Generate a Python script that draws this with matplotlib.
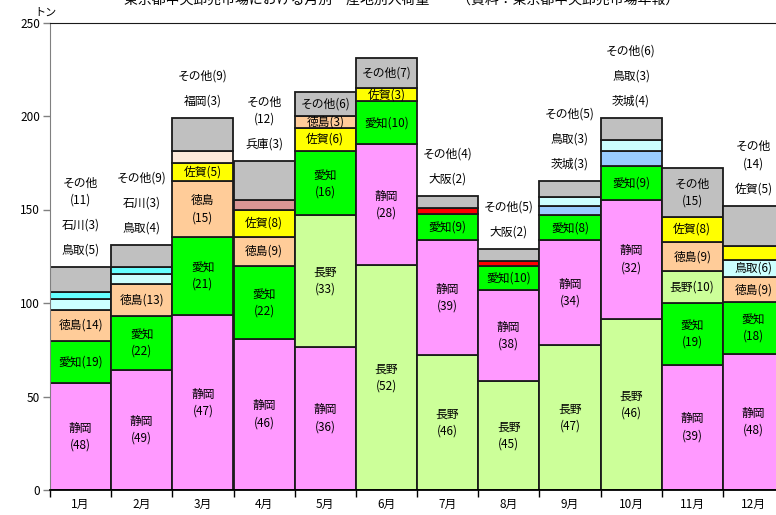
import matplotlib
matplotlib.use("Agg")
import matplotlib.pyplot as plt
from matplotlib.ticker import FixedLocator

plt.rcParams["font.family"] = ["Noto Sans CJK JP", "DejaVu Sans"]

# ---- data -------------------------------------------------------------
months = ["1月", "2月", "3月", "4月", "5月", "6月",
          "7月", "8月", "9月", "10月", "11月", "12月"]

# monthly arrivals (tonnes)
totals = [119, 131, 199, 176, 213, 231, 157, 129, 165, 199, 172, 152]

# producing prefectures of each month, bottom to top
origins = [
    ["静岡", "愛知", "徳島", "鳥取", "石川", "その他"],
    ["静岡", "愛知", "徳島", "鳥取", "石川", "その他"],
    ["静岡", "愛知", "徳島", "佐賀", "福岡", "その他"],
    ["静岡", "愛知", "徳島", "佐賀", "兵庫", "その他"],
    ["静岡", "長野", "愛知", "佐賀", "徳島", "その他"],
    ["長野", "静岡", "愛知", "佐賀", "その他"],
    ["長野", "静岡", "愛知", "大阪", "その他"],
    ["長野", "静岡", "愛知", "大阪", "その他"],
    ["長野", "静岡", "愛知", "茨城", "鳥取", "その他"],
    ["長野", "静岡", "愛知", "茨城", "鳥取", "その他"],
    ["静岡", "愛知", "長野", "徳島", "佐賀", "その他"],
    ["静岡", "愛知", "徳島", "鳥取", "佐賀", "その他"],
]

# share of each prefecture in the month (%)
shares = [
    [48, 19, 14, 5, 3, 11],
    [49, 22, 13, 4, 3, 9],
    [47, 21, 15, 5, 3, 9],
    [46, 22, 9, 8, 3, 12],
    [36, 33, 16, 6, 3, 6],
    [52, 28, 10, 3, 7],
    [46, 39, 9, 2, 4],
    [45, 38, 10, 2, 5],
    [47, 34, 8, 3, 3, 5],
    [46, 32, 9, 4, 3, 6],
    [39, 19, 10, 9, 8, 15],
    [48, 18, 9, 6, 5, 14],
]

# ---- styling ----------------------------------------------------------
colors = {
    "静岡": "#FF99FF",
    "長野": "#CCFF99",
    "愛知": "#00FF00",
    "徳島": "#FFCC99",
    "佐賀": "#FFFF00",
    "鳥取": "#CCFFFF",
    "石川": "#66FFFF",
    "茨城": "#99CCFF",
    "福岡": "#FDE9D9",
    "兵庫": "#D99694",
    "大阪": "#FF0000",
    "その他": "#C0C0C0",
}

# label placement: "2" two lines inside, "1" one line inside,
# "o" one line above the bar, "O" two lines above the bar
label_modes = [
    ["2", "1", "1", "o", "o", "O"],
    ["2", "2", "1", "o", "o", "o"],
    ["2", "2", "2", "1", "o", "o"],
    ["2", "2", "1", "1", "o", "O"],
    ["2", "2", "2", "1", "1", "1"],
    ["2", "2", "1", "1", "1"],
    ["2", "2", "1", "o", "o"],
    ["2", "2", "1", "o", "o"],
    ["2", "2", "1", "o", "o", "o"],
    ["2", "2", "1", "o", "o", "o"],
    ["2", "2", "1", "1", "1", "2"],
    ["2", "2", "1", "1", "o", "O"],
]

W, H = 776, 515
fig = plt.figure(figsize=(W / 100, H / 100), dpi=100)

ax_left, ax_right = 50, 784
ax_bottom, ax_top = 490, 22.5
ax = fig.add_axes([ax_left / W, 1 - ax_bottom / H,
                   (ax_right - ax_left) / W, (ax_bottom - ax_top) / H])

YMAX = 250
px = YMAX / (ax_bottom - ax_top)   # data units per pixel
FS = 8.5

for i, (total, names, pcts, modes) in enumerate(zip(totals, origins, shares, label_modes)):
    bottom = 0.0
    above = []
    for name, pct, mode in zip(names, pcts, modes):
        h = total * pct / 100.0
        ax.bar(i, h, width=1.0, bottom=bottom, color=colors[name],
               edgecolor="#1a1a1a", linewidth=1.3, zorder=2)
        mid = bottom + h / 2
        if mode == "2":
            ax.text(i, mid + 8.5 * px, name, ha="center", va="center", fontsize=FS, zorder=3)
            ax.text(i, mid - 8.5 * px, f"({pct})", ha="center", va="center", fontsize=FS, zorder=3)
        elif mode == "1":
            ax.text(i, mid, f"{name}({pct})", ha="center", va="center", fontsize=FS, zorder=3)
        else:
            above.append((name, pct, mode))
        bottom += h

    # labels for thin segments, stacked above the bar in the same order
    y = total + 17 * px
    for name, pct, mode in above:
        if mode == "o":
            ax.text(i, y, f"{name}({pct})", ha="center", va="center", fontsize=FS)
            y += 25 * px
        else:
            ax.text(i, y, f"({pct})", ha="center", va="center", fontsize=FS)
            ax.text(i, y + 17 * px, name, ha="center", va="center", fontsize=FS)
            y += 42 * px

ax.set_xlim(-0.5, len(months) - 0.5)
ax.set_ylim(0, YMAX)

ax.set_xticks(range(len(months)))
ax.set_xticklabels(months, fontsize=8.5)
ax.xaxis.set_minor_locator(FixedLocator([k - 0.5 for k in range(len(months) + 1)]))
ax.tick_params(axis="x", which="major", length=0, pad=6)
ax.tick_params(axis="x", which="minor", length=5, width=1.0, color="black", direction="out")

ax.set_yticks(range(0, YMAX + 1, 50))
ax.tick_params(axis="y", length=5, width=1.0, color="#808080", labelsize=8.5, pad=2)

ax.spines["right"].set_visible(False)
ax.spines["left"].set_color("#808080")
ax.spines["top"].set_color("#1a1a1a")
ax.spines["bottom"].set_color("black")
ax.spines["bottom"].set_linewidth(1.3)

fig.text(45 / W, 1 - 13 / H, "トン", ha="center", va="center", fontsize=8)

# chart title (sits at the very top edge of the canvas)
fig.text(124 / W, 1 - 3.5 / H,
         "東京都中央卸売市場における月別・産地別入荷量　　（資料：東京都中央卸売市場年報）",
         ha="left", va="baseline", fontsize=10)

fig.savefig("out.png", dpi=100)
